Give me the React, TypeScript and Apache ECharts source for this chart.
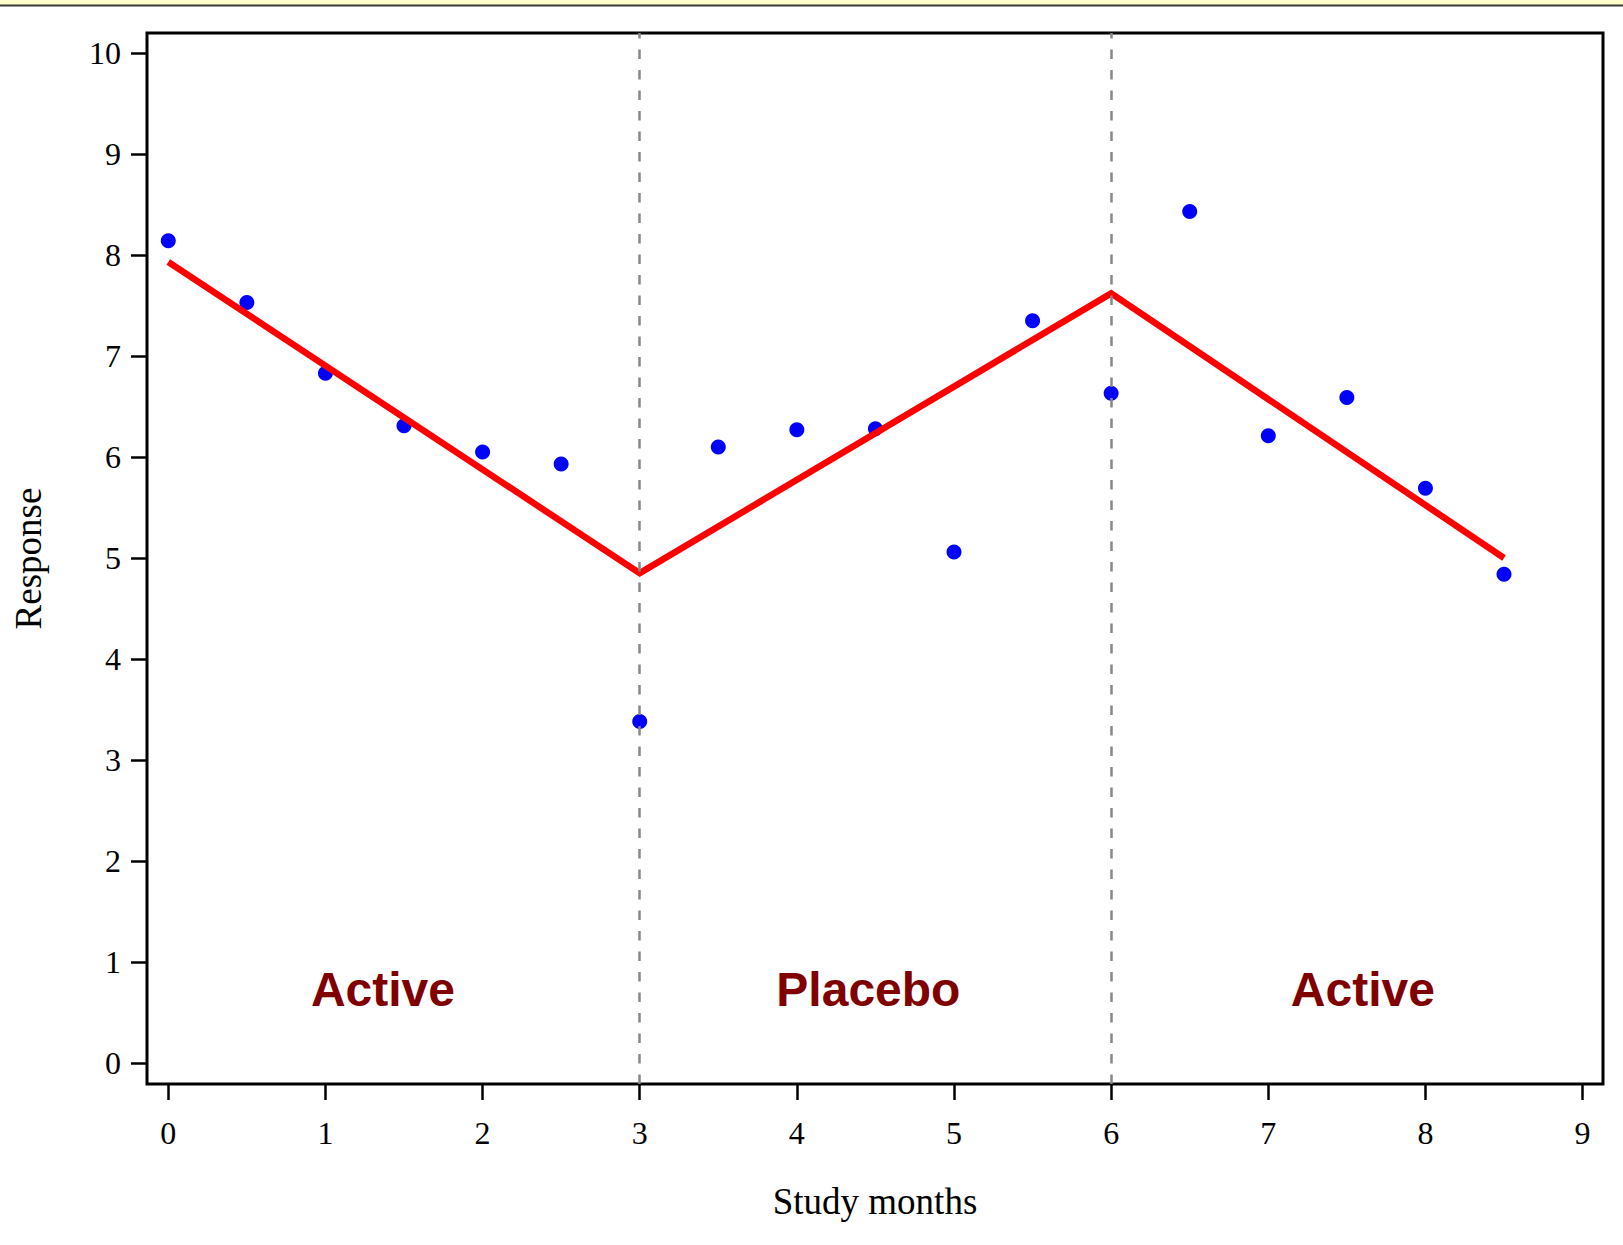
import React, { useEffect, useRef } from "react";
import * as echarts from "echarts";

// Study visits (months) and the observed response at each visit
const months = [0, 0.5, 1, 1.5, 2, 2.5, 3, 3.5, 4, 4.5, 5, 5.5, 6, 6.5, 7, 7.5, 8, 8.5];
const responses = [8.14, 7.53, 6.83, 6.31, 6.05, 5.93, 3.38, 6.1, 6.27, 6.28, 5.06, 7.35, 6.63, 8.43, 6.21, 6.59, 5.69, 4.84];

// Piecewise linear fit across the three treatment periods
const fitMonths = [0, 3, 6, 8.5];
const fitValues = [7.93, 4.85, 7.62, 5.0];

// Period boundaries
const boundaries = [3, 6];

// Period names and where they are written
const periodNames = ["Active", "Placebo", "Active"];
const periodX = [1.366, 4.455, 7.602];
const periodY = [0.73, 0.73, 0.73];

const xTicks = [0, 1, 2, 3, 4, 5, 6, 7, 8, 9];
const yTicks = [0, 1, 2, 3, 4, 5, 6, 7, 8, 9, 10];

const SERIF = "'Liberation Serif', 'Times New Roman', serif";
const SANS = "'Liberation Sans', Arial, sans-serif";

export default function App() {
  const ref = useRef<HTMLDivElement>(null);

  useEffect(() => {
    if (!ref.current) return;
    const chart = echarts.init(ref.current, null, { renderer: "svg" });

    const tickStyle = { color: "#000", width: 2.5 };

    chart.setOption({
      animation: false,
      backgroundColor: "#fff",
      graphic: [
        {
          type: "rect",
          shape: { x: 0, y: 0, width: 1623, height: 5 },
          style: { fill: "#FFFDC9" },
          silent: true,
        },
        {
          type: "line",
          shape: { x1: 0, y1: 5.5, x2: 1623, y2: 5.5 },
          style: { stroke: "#3a3a3a", lineWidth: 2 },
          silent: true,
        },
      ],
      grid: {
        left: 147,
        top: 33,
        right: 20,
        bottom: 161,
        show: true,
        borderColor: "#000",
        borderWidth: 3,
        backgroundColor: "transparent",
      },
      xAxis: {
        type: "value",
        min: -0.1355,
        max: 9.13,
        axisLine: { show: false, onZero: false },
        splitLine: { show: false },
        axisTick: {
          show: true,
          inside: false,
          customValues: xTicks,
          length: 16,
          lineStyle: tickStyle,
        },
        axisLabel: {
          customValues: xTicks,
          fontSize: 32,
          fontFamily: SERIF,
          color: "#000",
          margin: 33,
        },
        name: "Study months",
        nameLocation: "middle",
        nameGap: 99,
        nameTextStyle: { fontSize: 37, fontFamily: SERIF, color: "#000" },
      },
      yAxis: {
        type: "value",
        min: -0.208,
        max: 10.198,
        axisLine: { show: false, onZero: false },
        splitLine: { show: false },
        axisTick: {
          show: true,
          inside: false,
          customValues: yTicks,
          length: 16,
          lineStyle: tickStyle,
        },
        axisLabel: {
          customValues: yTicks,
          fontSize: 32,
          fontFamily: SERIF,
          color: "#000",
          margin: 26,
        },
        name: "Response",
        nameLocation: "middle",
        nameGap: 100,
        nameRotate: 90,
        nameTextStyle: { fontSize: 37, fontFamily: SERIF, color: "#000" },
      },
      series: [
        {
          name: "Observed",
          type: "scatter",
          data: months.map((m, i) => [m, responses[i]]),
          symbol: "circle",
          symbolSize: 15,
          itemStyle: { color: "#0000FF", opacity: 1 },
          z: 2,
        },
        {
          name: "Fit",
          type: "line",
          data: fitMonths.map((m, i) => [m, fitValues[i]]),
          symbol: "none",
          lineStyle: { color: "#FF0000", width: 6.5, cap: "butt", join: "miter", opacity: 1 },
          z: 3,
        },
        {
          name: "Periods",
          type: "scatter",
          symbolSize: 0,
          itemStyle: { opacity: 1 },
          data: periodNames.map((n, i) => ({ name: n, value: [periodX[i], periodY[i]] })),
          label: {
            show: true,
            position: "inside",
            formatter: (p: any) => p.name,
            fontFamily: SANS,
            fontWeight: "bold",
            fontSize: 48,
            color: "#800000",
            opacity: 1,
          },
          z: 4,
        },
        {
          name: "Boundaries",
          type: "line",
          data: [],
          z: 5,
          markLine: {
            silent: true,
            symbol: "none",
            label: { show: false },
            lineStyle: { color: "#888888", width: 2.5, type: [9.5, 11], opacity: 1 },
            data: boundaries.map((b) => ({ xAxis: b })),
          },
        },
      ],
    });

    return () => chart.dispose();
  }, []);

  return (
    <div
      ref={ref}
      style={{ position: "fixed", left: 0, top: 0, width: 1623, height: 1245 }}
    />
  );
}
